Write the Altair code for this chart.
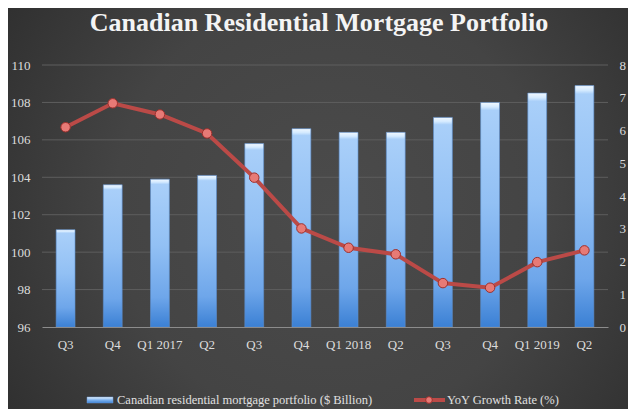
import altair as alt
import pandas as pd

# ---- data ----
periods = ["Q3 2016", "Q4 2016", "Q1 2017", "Q2 2017", "Q3 2017", "Q4 2017",
           "Q1 2018", "Q2 2018", "Q3 2018", "Q4 2018", "Q1 2019", "Q2 2019"]
tick_labels = ["Q3", "Q4", "Q1 2017", "Q2", "Q3", "Q4",
               "Q1 2018", "Q2", "Q3", "Q4", "Q1 2019", "Q2"]
portfolio = [101.2, 103.6, 103.9, 104.1, 105.8, 106.6,
             106.4, 106.4, 107.2, 108.0, 108.5, 108.9]
growth = [6.10, 6.83, 6.49, 5.91, 4.56, 3.01,
          2.42, 2.22, 1.34, 1.20, 1.98, 2.34]
left_ticks = [96, 98, 100, 102, 104, 106, 108, 110]
right_ticks = [0, 1, 2, 3, 4, 5, 6, 7, 8]
title_text = "Canadian Residential Mortgage Portfolio"
legend_labels = ["Canadian residential mortgage portfolio ($ Billion)", "YoY Growth Rate (%)"]

df = pd.DataFrame({"period": periods, "portfolio": portfolio, "growth": growth})

W, H = 566, 262
PL, PT, PR, PB = 34, 57, 20, 82
FONT = "Liberation Serif"
label_expr = "[" + ",".join("'%s'" % t for t in tick_labels) + "][indexof([" + \
    ",".join("'%s'" % p for p in periods) + "], datum.value)]"

x_enc = alt.X("period:N", sort=periods,
              scale=alt.Scale(paddingInner=0.6, paddingOuter=0.3),
              axis=alt.Axis(title=None, labelAngle=0, labelExpr=label_expr,
                            domain=True, domainColor="#8c8c8c", domainWidth=1,
                            ticks=False, labelPadding=11, labelFont=FONT,
                            labelFontSize=13, labelColor="#dcdcdc", grid=False,
                            zindex=2))

one = alt.Data(values=[{}])

bg = alt.Chart(one).mark_rect(
    fill=alt.RadialGradient(
        gradient="radial", x1=0.52, y1=0.5, x2=0.52, y2=0.5, r1=0, r2=0.75,
        stops=[alt.GradientStop(color="#4b4b4b", offset=0),
               alt.GradientStop(color="#444444", offset=0.45),
               alt.GradientStop(color="#303030", offset=0.8),
               alt.GradientStop(color="#232323", offset=1)])
).encode(x=alt.value(-PL - 10), x2=alt.value(W + PR + 10),
         y=alt.value(-PT - 10), y2=alt.value(H + PB + 10))

grid = alt.Chart(pd.DataFrame({"v": left_ticks[1:]})).mark_rule(
    color="#5e5e5e", strokeWidth=1
).encode(
    y=alt.Y("v:Q", scale=alt.Scale(domain=[96, 110]), axis=None),
    x=alt.value(0), x2=alt.value(W)
)

bars = alt.Chart(df).mark_bar(
    fill=alt.LinearGradient(
        gradient="linear", x1=0, y1=0, x2=0, y2=1,
        stops=[alt.GradientStop(color="#f2f9ff", offset=0),
               alt.GradientStop(color="#d4eaff", offset=0.02),
               alt.GradientStop(color="#a9cff9", offset=0.035),
               alt.GradientStop(color="#92c0f4", offset=0.45),
               alt.GradientStop(color="#6ea6ea", offset=0.8),
               alt.GradientStop(color="#3b80d4", offset=1)]),
    stroke="#5d8fcf", strokeWidth=0.6
).encode(
    x=x_enc,
    y=alt.Y("portfolio:Q", scale=alt.Scale(domain=[96, 110], zero=False, nice=False),
            axis=alt.Axis(orient="left", values=left_ticks, title=None, grid=False,
                          domain=False, ticks=False, labelPadding=12, labelFont=FONT,
                          labelFontSize=13, labelColor="#dcdcdc", zindex=2)),
    y2=alt.datum(96)
)

line = alt.Chart(df).mark_line(
    color="#bb4a47", strokeWidth=4,
    point=alt.OverlayMarkDef(shape="circle", size=90, fill="#e77a76",
                             stroke="#9e2f2c", strokeWidth=1, opacity=1)
).encode(
    x=alt.X("period:N", sort=periods),
    y=alt.Y("growth:Q", scale=alt.Scale(domain=[0, 8], nice=False),
            axis=alt.Axis(orient="right", values=right_ticks, title=None, grid=False,
                          domain=False, ticks=False, labelPadding=11, labelFont=FONT,
                          labelFontSize=13, labelColor="#dcdcdc", zindex=2))
)

title = alt.Chart(alt.Data(values=[{"t": title_text}])).mark_text(
    font=FONT, fontSize=26, fontWeight="bold", color="#f4f4f4",
    align="center", baseline="middle"
).encode(text="t:N", x=alt.value(277), y=alt.value(-42))

leg_rect = alt.Chart(one).mark_rect(
    fill=alt.LinearGradient(
        gradient="linear", x1=0, y1=0, x2=0, y2=1,
        stops=[alt.GradientStop(color="#eaf5ff", offset=0),
               alt.GradientStop(color="#7fb3ee", offset=0.5),
               alt.GradientStop(color="#3c82d6", offset=1)]),
    stroke="#6c9ad4", strokeWidth=0.5
).encode(x=alt.value(45), x2=alt.value(71), y=alt.value(332), y2=alt.value(338))

leg_text1 = alt.Chart(alt.Data(values=[{"t": legend_labels[0]}])).mark_text(
    font=FONT, fontSize=12.5, color="#e0e0e0", align="left", baseline="middle"
).encode(text="t:N", x=alt.value(75), y=alt.value(335))

leg_line = alt.Chart(one).mark_rule(color="#bb4a47", strokeWidth=4).encode(
    x=alt.value(372), x2=alt.value(403), y=alt.value(335))
leg_pt = alt.Chart(one).mark_point(
    shape="circle", size=45, filled=True, fill="#e77a76", stroke="#9e2f2c",
    strokeWidth=1, opacity=1
).encode(x=alt.value(387), y=alt.value(335))

leg_text2 = alt.Chart(alt.Data(values=[{"t": legend_labels[1]}])).mark_text(
    font=FONT, fontSize=12.5, color="#e0e0e0", align="left", baseline="middle"
).encode(text="t:N", x=alt.value(405), y=alt.value(335))

chart = alt.layer(
    bg, grid, bars, line, title, leg_rect, leg_text1, leg_line, leg_pt, leg_text2
).resolve_scale(y="independent").properties(
    width=W, height=H,
    autosize=alt.AutoSizeParams(type="none"),
    padding={"left": PL, "top": PT, "right": PR, "bottom": PB},
    background="#2a2a2a"
).configure_view(stroke=None)

chart.save("out.html", embed_options={"renderer": "svg", "actions": False})
